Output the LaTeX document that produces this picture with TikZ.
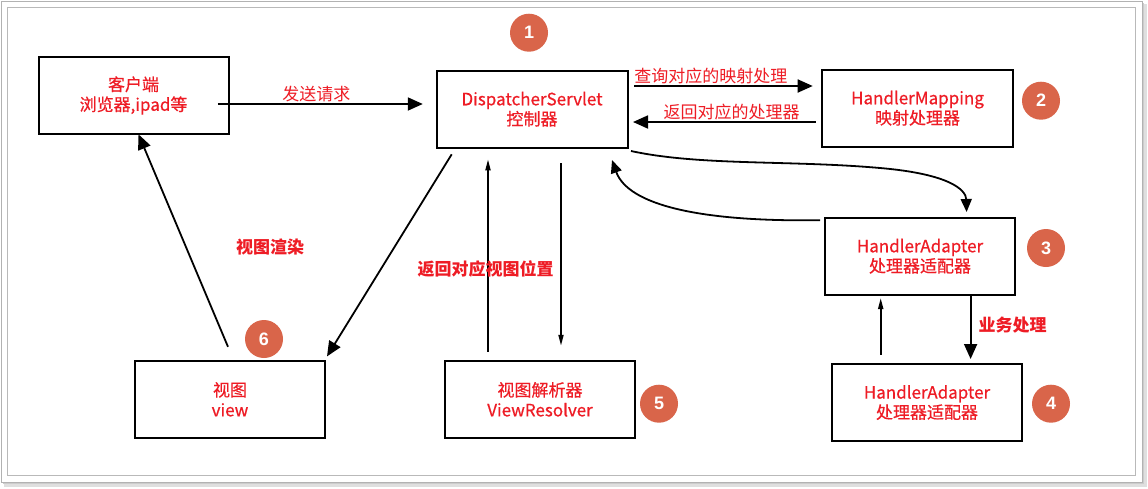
\documentclass[tikz,border=0pt]{standalone}
\usepackage{fontspec}
\setmainfont{Noto Sans CJK SC}
\newfontfamily\boxfont{Noto Sans CJK SC}[FakeBold=0.6]
\newfontfamily\numfont{Liberation Sans}
\usetikzlibrary{arrows.meta,calc}
\definecolor{txtred}{HTML}{EE1C25}
\definecolor{badgecol}{HTML}{D9654A}
\tikzset{
  box/.style={draw=black, line width=2pt, inner sep=0pt, align=center, text=txtred,
              font=\boxfont\fontsize{17}{20}\selectfont},
  bigarr/.style={draw=black, line width=1.8pt, -{Triangle[length=15pt,width=13pt]}},
  thinarr/.style={draw=black, line width=1.8pt, -{Triangle[length=11pt,width=5pt]}},
  badge/.style={circle, fill=badgecol, minimum size=38pt, inner sep=0pt, text=white,
                font=\numfont\bfseries\fontsize{18}{18}\selectfont},
  flowlbl/.style={text=txtred, inner sep=1pt, font=\fontsize{17}{19}\selectfont},
  boldlbl/.style={text=txtred, inner sep=1pt, font=\bfseries\fontsize{17}{19}\selectfont}
}
\begin{document}
\begin{tikzpicture}[x=1pt,y=-1pt]
\useasboundingbox (0,0) rectangle (1148,488);
% frame with shadow
\fill[gray!25] (4,4) rectangle (1147,487);
\fill[gray!40] (3,3) rectangle (1144,484);
\draw[gray!60, fill=white, line width=1pt] (1,1) rectangle (1142,482);
\draw[gray!55, line width=1pt] (7.5,7.5) rectangle (1135.5,475);

% boxes
\node[box, minimum width=190pt, minimum height=77pt] (client) at (133.5,95.5) {客户端\\浏览器,ipad等};
\node[box, minimum width=191pt, minimum height=77pt] (ds) at (532,109.2) {DispatcherServlet\\控制器};
\node[box, minimum width=191pt, minimum height=77pt] (hm) at (917.5,108.2) {HandlerMapping\\映射处理器};
\node[box, minimum width=190pt, minimum height=77pt] (ha3) at (920,256.2) {HandlerAdapter\\处理器适配器};
\node[box, minimum width=190pt, minimum height=77pt] (ha4) at (927,402.5) {HandlerAdapter\\处理器适配器};
\node[box, minimum width=190.6pt, minimum height=77pt] (view) at (230,399.3) {视图\\view};
\node[box, minimum width=190pt, minimum height=77pt] (vr) at (540,399.3) {视图解析器\\ViewResolver};

% badges
\node[badge] (b1) at (529,32.7) {1};
\node[badge] (b2) at (1041,100.7) {2};
\node[badge] (b3) at (1046,248) {3};
\node[badge] (b4) at (1051,403.7) {4};
\node[badge] (b5) at (659,403.7) {5};
\node[badge] (b6) at (264,339) {6};

% connectors
\draw[bigarr] ($(client.east)+(-11.6,8.5)$) -- ($(ds.west)+(-12.7,-5.2)$)
  node[flowlbl, pos=0.48, above=0pt] {发送请求};
\draw[bigarr] ($(ds.east)+(5.5,-23.2)$) -- ($(hm.west)+(-8.3,-22.2)$)
  node[flowlbl, pos=0.43, above=0pt] {查询对应的映射处理};
\draw[bigarr] ($(hm.west)+(-5.4,13.8)$) -- ($(ds.east)+(4.5,12.8)$)
  node[flowlbl, pos=0.46, above=0pt] {返回对应的处理器};

% ds -> ha3 curve
\draw[draw=black, line width=1.8pt, -{Triangle[length=13pt,width=11pt]}]
  ($(ds.south east)+(2.5,2.3)$) .. controls (700,166) and (790,160) .. (880,168)
  .. controls (950,174) and (966,190) .. ($(ha3.north)+(46.6,-4.7)$);
% ha3 -> ds curve
\draw[draw=black, line width=1.8pt, -{Triangle[length=13pt,width=11pt]}]
  ($(ha3.north west)+(-4,3.5)$) .. controls (700,222) and (628,205) .. ($(ds.south east)+(-16.5,11.3)$);

% ds -> view, view -> client
\draw[bigarr] ($(ds.south west)+(16.2,5.6)$) -- ($(view.north east)+(0.7,-3.4)$);
\draw[bigarr] ($(view.north)+(-2,-13)$) -- ($(client.south)+(5,-0.7)$);

% vr <-> ds
\draw[thinarr] ($(vr.north)+(-52,-8)$) -- ($(ds.south)+(-44,10.6)$);
\draw[thinarr] ($(ds.south)+(29,14.6)$) -- ($(vr.north)+(21,-14)$);

% ha4 <-> ha3
\draw[thinarr] ($(ha4.north)+(-46.3,-8.3)$) -- ($(ha3.south)+(-39.3,2.3)$);
\draw[bigarr] ($(ha3.south)+(50.6,0.3)$) -- ($(ha4.north)+(43.6,-4)$)
  node[boldlbl, pos=0.46, right=6pt] {业务处理};

% free labels
\node[boldlbl] (lrender) at (270,246.7) {视图渲染};
\node[boldlbl] (lreturn) at (485.6,269) {返回对应视图位置};
\end{tikzpicture}
\end{document}
